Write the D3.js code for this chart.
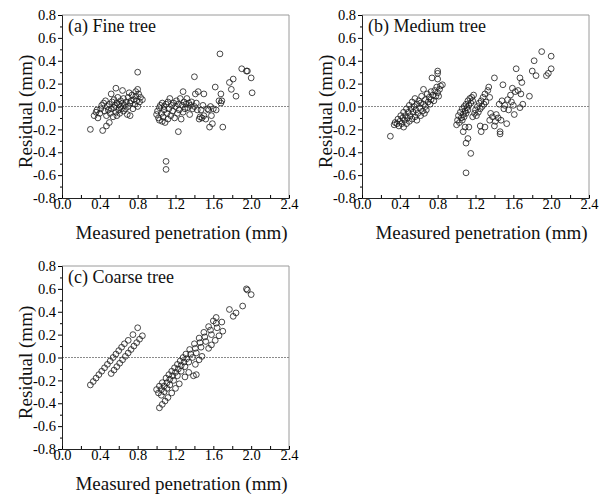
<!DOCTYPE html>
<html>
<head>
<meta charset="utf-8">
<script src="https://cdn.jsdelivr.net/npm/d3@7"></script>
<style>
  body { margin: 0; background: #fff; }
  svg, svg text { font-family: "Liberation Serif", "Times New Roman", serif; }
  .tick text { font-size: 14.5px; fill: #000; font-family: "Liberation Serif", serif; }
  .domain { stroke: #222; }
</style>
</head>
<body>
<script>
// data: [measured penetration (mm), residual (mm)]
const fineTree = [
  [0.30,-0.20],[0.34,-0.08],[0.36,-0.05],[0.37,-0.03],[0.38,-0.10],[0.40,-0.06],[0.41,-0.02],[0.42,0.01],
  [0.43,-0.21],[0.44,0.03],[0.45,-0.04],[0.46,0.05],[0.47,-0.17],[0.47,-0.08],[0.48,0.00],[0.49,-0.03],
  [0.50,-0.14],[0.50,0.02],[0.51,-0.06],[0.52,0.11],[0.52,-0.02],[0.53,0.04],[0.54,-0.09],[0.55,0.06],
  [0.55,-0.01],[0.56,0.01],[0.57,-0.05],[0.57,0.16],[0.58,0.03],[0.58,-0.08],[0.59,0.08],[0.60,-0.03],
  [0.60,0.02],[0.61,-0.06],[0.62,0.05],[0.62,0.00],[0.63,-0.02],[0.64,0.14],[0.64,0.03],[0.65,-0.04],
  [0.65,0.07],[0.66,0.01],[0.67,-0.02],[0.68,0.04],[0.69,-0.07],[0.70,0.08],[0.70,0.00],[0.71,0.12],
  [0.72,0.03],[0.72,-0.08],[0.73,0.05],[0.74,0.10],[0.75,-0.02],[0.76,0.06],[0.77,0.02],[0.78,0.09],
  [0.78,0.13],[0.79,0.05],[0.80,0.30],[0.80,0.15],[0.80,0.00],[0.81,0.11],[0.82,0.04],[0.83,0.08],[0.85,0.06],
  [1.00,-0.07],[1.01,-0.04],[1.02,-0.10],[1.03,-0.01],[1.03,-0.12],[1.04,0.01],[1.05,-0.06],[1.06,-0.13],
  [1.06,0.03],[1.07,-0.09],[1.08,-0.03],[1.08,0.00],[1.09,-0.14],[1.10,0.02],[1.10,-0.48],[1.10,-0.55],
  [1.11,-0.06],[1.12,-0.11],[1.12,0.04],[1.13,-0.02],[1.14,0.07],[1.15,-0.08],[1.16,0.01],[1.17,-0.04],
  [1.18,0.03],[1.19,-0.10],[1.20,0.00],[1.21,0.05],[1.22,-0.06],[1.23,-0.22],[1.23,0.02],[1.24,-0.03],
  [1.25,0.07],[1.26,-0.11],[1.27,0.01],[1.28,0.13],[1.28,-0.05],[1.29,0.04],[1.30,-0.02],[1.31,0.02],
  [1.32,0.07],[1.33,-0.01],[1.34,0.03],[1.35,-0.07],[1.36,0.01],[1.37,0.04],[1.38,-0.02],[1.40,0.26],
  [1.40,0.00],[1.41,0.11],[1.42,0.03],[1.43,-0.03],[1.44,0.13],[1.45,-0.11],[1.46,-0.09],[1.47,-0.03],
  [1.48,-0.10],[1.49,0.01],[1.50,0.11],[1.50,-0.08],[1.52,-0.11],[1.54,-0.02],[1.55,-0.03],[1.56,-0.18],
  [1.57,0.00],[1.58,-0.08],[1.59,-0.15],[1.60,-0.02],[1.62,0.17],[1.63,-0.03],[1.66,0.05],[1.67,0.46],
  [1.68,0.11],[1.68,0.03],[1.69,0.05],[1.70,-0.18],[1.77,0.21],[1.79,0.15],[1.81,0.24],[1.84,0.09],
  [1.90,0.33],[1.95,0.31],[1.96,0.31],[2.00,0.25],[2.01,0.12]
];

const mediumTree = [
  [0.30,-0.26],[0.34,-0.16],[0.35,-0.14],[0.37,-0.15],[0.38,-0.11],[0.39,-0.17],[0.40,-0.13],[0.41,-0.08],
  [0.42,-0.15],[0.43,-0.10],[0.44,-0.18],[0.44,-0.05],[0.45,-0.12],[0.46,-0.08],[0.47,-0.15],[0.47,-0.02],
  [0.48,-0.10],[0.49,-0.05],[0.50,-0.13],[0.50,0.01],[0.51,-0.08],[0.52,-0.02],[0.53,-0.11],[0.53,0.04],
  [0.54,-0.05],[0.55,0.00],[0.56,-0.09],[0.56,0.07],[0.57,-0.03],[0.58,0.02],[0.58,-0.12],[0.59,-0.06],
  [0.60,0.05],[0.61,-0.01],[0.62,-0.08],[0.62,0.03],[0.63,0.09],[0.64,-0.04],[0.65,0.02],[0.65,0.15],
  [0.66,-0.06],[0.67,0.06],[0.67,0.00],[0.68,-0.03],[0.69,0.11],[0.70,0.04],[0.71,0.08],[0.72,0.02],
  [0.73,0.13],[0.73,0.06],[0.74,0.25],[0.75,0.10],[0.76,0.05],[0.77,0.14],[0.78,0.09],[0.79,0.17],
  [0.80,0.31],[0.80,0.29],[0.80,0.24],[0.80,0.12],[0.81,0.09],[0.82,0.15],[0.83,0.18],[0.85,0.19],
  [1.00,-0.16],[1.01,-0.12],[1.02,-0.08],[1.03,-0.14],[1.04,-0.05],[1.05,-0.10],[1.06,-0.02],[1.07,-0.07],
  [1.08,0.00],[1.09,-0.04],[1.10,0.02],[1.11,-0.01],[1.12,0.05],[1.13,0.01],[1.14,0.07],[1.15,0.03],
  [1.16,0.08],[1.17,0.05],[1.18,0.10],[1.06,-0.12],[1.08,-0.09],[1.10,-0.06],[1.12,-0.03],
  [1.07,-0.22],[1.09,-0.18],[1.10,-0.32],[1.12,-0.28],[1.13,-0.18],[1.15,-0.41],[1.10,-0.58],
  [1.17,-0.09],[1.19,-0.06],[1.20,-0.03],[1.21,-0.08],[1.22,0.00],[1.23,-0.05],[1.24,0.03],[1.25,-0.02],
  [1.26,0.05],[1.27,0.00],[1.28,0.08],[1.29,0.02],[1.30,0.11],[1.31,0.04],[1.33,0.14],[1.34,0.17],[1.35,0.08],
  [1.25,-0.17],[1.26,-0.22],[1.30,-0.18],[1.35,-0.12],[1.36,-0.06],[1.38,-0.09],[1.40,-0.17],[1.41,-0.13],
  [1.42,-0.07],[1.40,0.25],[1.44,-0.10],[1.45,0.02],[1.46,-0.22],[1.46,-0.24],[1.47,-0.12],[1.48,0.05],
  [1.49,0.19],[1.50,-0.02],[1.51,0.01],[1.53,-0.15],[1.54,0.06],[1.55,-0.03],[1.57,0.10],[1.58,0.04],
  [1.59,0.16],[1.60,0.01],[1.61,-0.07],[1.62,0.13],[1.63,0.33],[1.65,0.14],[1.67,-0.01],[1.67,0.25],
  [1.68,0.11],[1.69,0.21],[1.70,0.02],[1.77,0.09],[1.80,0.31],[1.82,0.40],[1.84,0.27],[1.90,0.48],
  [1.95,0.27],[1.97,0.29],[2.00,0.44],[2.00,0.33]
];

const coarseTree = [
  [0.30,-0.24],[0.33,-0.21],[0.36,-0.18],[0.39,-0.15],[0.42,-0.12],[0.45,-0.09],[0.48,-0.06],[0.51,-0.03],
  [0.54,0.00],[0.57,0.03],[0.60,0.06],[0.63,0.09],[0.66,0.12],[0.70,0.15],[0.75,0.20],[0.80,0.26],
  [0.52,-0.14],[0.55,-0.11],[0.58,-0.08],[0.61,-0.05],[0.64,-0.02],[0.67,0.01],[0.70,0.04],[0.73,0.07],
  [0.76,0.10],[0.79,0.13],[0.82,0.16],[0.85,0.19],
  [1.00,-0.28],[1.03,-0.25],[1.06,-0.22],[1.10,-0.18],[1.13,-0.15],[1.16,-0.12],[1.19,-0.09],[1.22,-0.06],
  [1.25,-0.03],[1.28,0.00],[1.31,0.03],[1.35,0.07],[1.40,0.12],[1.45,0.17],[1.50,0.22],[1.55,0.27],
  [1.60,0.32],[1.63,0.35],
  [1.02,-0.31],[1.05,-0.28],[1.08,-0.25],[1.11,-0.22],[1.14,-0.19],[1.17,-0.16],[1.20,-0.13],[1.23,-0.10],
  [1.26,-0.07],[1.29,-0.04],[1.32,-0.01],[1.36,0.03],[1.41,0.08],[1.46,0.13],[1.51,0.18],[1.57,0.24],[1.63,0.30],
  [1.05,-0.33],[1.08,-0.30],[1.11,-0.27],[1.14,-0.24],[1.18,-0.20],[1.22,-0.16],[1.26,-0.12],[1.30,-0.08],
  [1.34,-0.04],[1.38,0.00],[1.42,0.04],[1.47,0.09],[1.52,0.14],[1.58,0.20],[1.64,0.26],[1.69,0.31],
  [1.03,-0.44],[1.06,-0.41],[1.09,-0.38],[1.12,-0.35],[1.16,-0.31],[1.20,-0.27],[1.24,-0.23],[1.30,-0.17],
  [1.34,-0.13],[1.39,-0.16],[1.42,-0.15],[1.41,-0.06],[1.45,-0.02],[1.48,0.01],[1.55,0.08],[1.58,0.11],
  [1.62,0.15],[1.66,0.19],[1.70,0.23],
  [1.77,0.42],[1.81,0.36],[1.84,0.39],[1.91,0.45],[1.95,0.60],[1.96,0.59],[2.00,0.55]
];

const panelLabels = ["(a) Fine tree", "(b) Medium tree", "(c) Coarse tree"];
const xTicks = [0.0, 0.4, 0.8, 1.2, 1.6, 2.0, 2.4];
const xMinorTicks = [0.2, 0.6, 1.0, 1.4, 1.8, 2.2];
const yTicks = [-0.8, -0.6, -0.4, -0.2, 0.0, 0.2, 0.4, 0.6, 0.8];
const yMinorTicks = [-0.7, -0.5, -0.3, -0.1, 0.1, 0.3, 0.5, 0.7];

const width = 603, height = 496;
const w = 227, h = 183;
const serif = "'Liberation Serif', 'Times New Roman', serif";

const svg = d3.select("body").append("svg")
  .attr("width", width)
  .attr("height", height)
  .attr("font-family", serif);

const x = d3.scaleLinear().domain([0, 2.4]).range([0, w]);
const y = d3.scaleLinear().domain([-0.8, 0.8]).range([h, 0]);

const panels = [
  { data: fineTree, left: 62, top: 15 },
  { data: mediumTree, left: 362, top: 15 },
  { data: coarseTree, left: 62, top: 266 }
];

panels.forEach((p, i) => {
  const g = svg.append("g").attr("transform", `translate(${p.left},${p.top})`);

  // top / right frame in light grey
  g.append("path")
    .attr("d", `M0,0H${w}V${h}`)
    .attr("fill", "none")
    .attr("stroke", "#9a9a9a")
    .attr("stroke-width", 1);

  // zero line
  g.append("line")
    .attr("x1", 0).attr("x2", w)
    .attr("y1", y(0)).attr("y2", y(0))
    .attr("stroke", "#8a8a8a")
    .attr("stroke-width", 1)
    .attr("stroke-dasharray", "2,1");

  // axes
  g.append("g")
    .call(d3.axisLeft(y).tickValues(yMinorTicks).tickSize(2).tickFormat(""))
    .call(a => a.select(".domain").remove());
  g.append("g")
    .call(d3.axisLeft(y).tickValues(yTicks).tickSize(4).tickPadding(2).tickFormat(d => d.toFixed(1)))
    .attr("font-family", serif)
    .attr("font-size", 14.5);

  g.append("g")
    .attr("transform", `translate(0,${h})`)
    .call(d3.axisBottom(x).tickValues(xMinorTicks).tickSize(-3).tickFormat(""))
    .call(a => a.select(".domain").remove());
  g.append("g")
    .attr("transform", `translate(0,${h})`)
    .call(d3.axisBottom(x).tickValues(xTicks).tickSize(-3).tickPadding(1).tickFormat(d => d.toFixed(1)))
    .attr("font-family", serif)
    .attr("font-size", 14.5);

  // points
  g.selectAll(".pt")
    .data(p.data)
    .enter()
    .append("circle")
    .attr("class", "pt")
    .attr("cx", d => x(d[0]))
    .attr("cy", d => y(d[1]))
    .attr("r", 2.9)
    .attr("fill", "none")
    .attr("stroke", "#1a1a1a")
    .attr("stroke-width", 0.8);

  // titles
  g.append("text")
    .attr("x", 6)
    .attr("y", 16.5)
    .attr("font-size", 18)
    .attr("fill", "#111")
    .text(panelLabels[i]);

  g.append("text")
    .attr("x", w / 2 + 6)
    .attr("y", h + 40.5)
    .attr("text-anchor", "middle")
    .attr("font-size", 19)
    .attr("fill", "#111")
    .text("Measured penetration (mm)");

  g.append("text")
    .attr("transform", `translate(-30,${h / 2 + 5}) rotate(-90)`)
    .attr("text-anchor", "middle")
    .attr("font-size", 19)
    .attr("fill", "#111")
    .text("Residual (mm)");
});
</script>
</body>
</html>
